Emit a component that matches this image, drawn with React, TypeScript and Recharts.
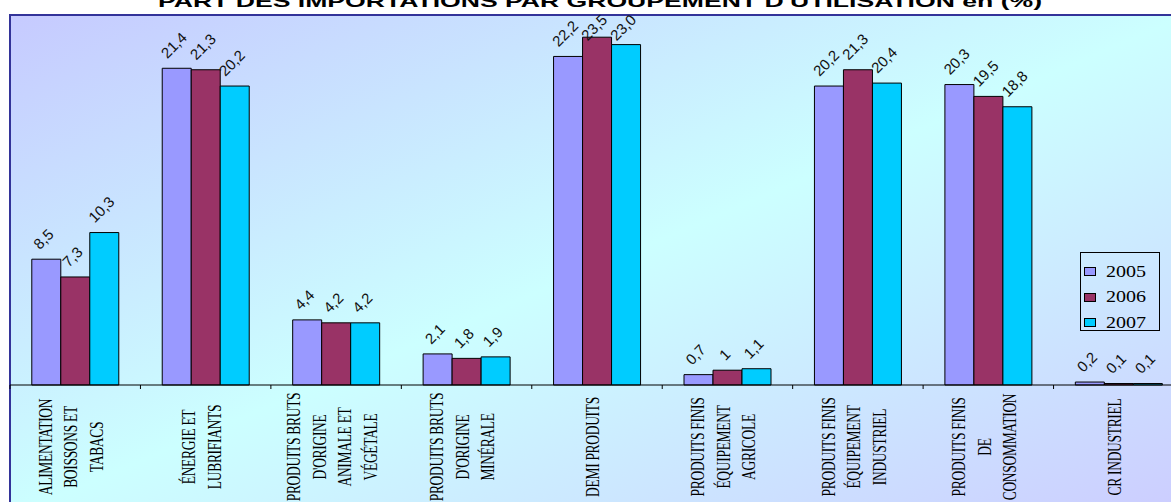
import React from 'react';
import { BarChart, Bar, XAxis, YAxis, LabelList } from 'recharts';

// Category labels, one entry per line of the rotated axis label
const categories: string[][] = [
  ['ALIMENTATION', 'BOISSONS ET', 'TABACS'],
  ['ÉNERGIE ET', 'LUBRIFIANTS'],
  ['PRODUITS BRUTS', "D'ORIGINE", 'ANIMALE ET', 'VÉGÉTALE'],
  ['PRODUITS BRUTS', "D'ORIGINE", 'MINÉRALE'],
  ['DEMI PRODUITS'],
  ['PRODUITS FINIS', 'ÉQUIPEMENT', 'AGRICOLE'],
  ['PRODUITS FINIS', 'ÉQUIPEMENT', 'INDUSTRIEL'],
  ['PRODUITS FINIS', 'DE', 'CONSOMMATION'],
  ['CR INDUSTRIEL'],
];

// values as printed on the chart (comma decimals)
const values2005 = ['8,5', '21,4', '4,4', '2,1', '22,2', '0,7', '20,2', '20,3', '0,2'];
const values2006 = ['7,3', '21,3', '4,2', '1,8', '23,5', '1', '21,3', '19,5', '0,1'];
const values2007 = ['10,3', '20,2', '4,2', '1,9', '23,0', '1,1', '20,4', '18,8', '0,1'];

const years = ['2005', '2006', '2007'];
const colors = ['#9999ff', '#993366', '#00ccff'];

const TITLE = "PART DES IMPORTATIONS PAR GROUPEMENT D'UTILISATION en (%)";

const CHART_W = 1185;
const CHART_H = 502;
const MARGIN = { top: 15, right: 1, left: 10, bottom: 0 };
const AXIS_H = 117;
const BAND = (CHART_W - MARGIN.left - MARGIN.right) / categories.length;
const LABEL_SIZE = 15;

const num = (s: string) => parseFloat(s.replace(',', '.'));

const data = categories.map((lines, i) => ({
  name: lines.join('\n'),
  v2005: num(values2005[i]),
  v2006: num(values2006[i]),
  v2007: num(values2007[i]),
  l2005: values2005[i],
  l2006: values2006[i],
  l2007: values2007[i],
}));

// rough Arial widths for label sizing
const textWidth = (s: string, size: number) =>
  s.split('').reduce((w, c) => w + (c === ',' ? 0.278 : 0.556), 0) * size;

const ValueLabel = (props: any) => {
  const { x, y, width, value } = props;
  const txt = String(value);
  const half = (textWidth(txt, LABEL_SIZE) + 11) * 0.354;
  let cy = y - 9 - half;
  cy = Math.max(cy, MARGIN.top + half - 2);
  const cx = x + width / 2 - 3;
  return (
    <text
      x={cx}
      y={cy}
      transform={`rotate(-45, ${cx}, ${cy})`}
      textAnchor="middle"
      dominantBaseline="central"
      fontFamily="'Liberation Sans', Arial, sans-serif"
      fontSize={LABEL_SIZE}
      fill="#111"
    >
      {txt}
    </text>
  );
};

const CategoryTick = (props: any) => {
  const { x, y, payload } = props;
  const lines: string[] = String(payload.value).split('\n');
  const left = x - BAND / 2;
  return (
    <g>
      <line x1={left} y1={y - 8} x2={left} y2={y - 4} stroke="#000" />
      {lines.map((line, i) => {
        const lx = x - 4 + (i - (lines.length - 1) / 2) * 25.5;
        return (
          <text
            key={i}
            transform={`translate(${lx}, 447) rotate(-90) scale(1, 1.35)`}
            textAnchor="middle"
            dominantBaseline="central"
            fontFamily="'Liberation Serif', 'Times New Roman', serif"
            fontSize={13.5}
            letterSpacing={-0.3}
            fill="#000"
          >
            {line}
          </text>
        );
      })}
    </g>
  );
};

export default function App() {
  return (
    <div
      style={{
        position: 'absolute',
        left: 0,
        top: 0,
        width: 1171,
        height: 502,
        overflow: 'hidden',
        background: '#fff',
      }}
    >
      {/* plot / chart area background */}
      <div
        style={{
          position: 'absolute',
          left: 9,
          top: 14,
          width: CHART_W - 10,
          height: 500,
          background: 'linear-gradient(to bottom right, #c6caff 0%, #ccffff 50%, #ccccff 100%)',
          borderTop: '2px solid #333399',
          borderLeft: '2px solid #333399',
        }}
      />
      <svg width={1171} height={15} style={{ position: 'absolute', left: 0, top: 0 }}>
        <text
          x={158}
          y={7}
          textLength={884}
          lengthAdjust="spacingAndGlyphs"
          fontFamily="'Liberation Sans', Arial, sans-serif"
          fontWeight="bold"
          fontSize={17}
          fill="#000"
        >
          {TITLE}
        </text>
      </svg>
      <div style={{ position: 'absolute', left: 0, top: 0 }}>
        <BarChart
          width={CHART_W}
          height={CHART_H}
          data={data}
          margin={MARGIN}
          barCategoryGap="16.7%"
          barGap={0}
        >
          <XAxis
            dataKey="name"
            height={AXIS_H}
            interval={0}
            tickLine={false}
            axisLine={{ stroke: '#000', strokeWidth: 1 }}
            tick={<CategoryTick />}
          />
          <YAxis hide domain={[0, 25]} />
          {years.map((yr, k) => (
            <Bar
              key={yr}
              dataKey={`v${yr}`}
              name={yr}
              fill={colors[k]}
              stroke="#000"
              strokeWidth={1}
              isAnimationActive={false}
            >
              <LabelList dataKey={`l${yr}`} content={<ValueLabel />} />
            </Bar>
          ))}
        </BarChart>
      </div>
      {/* legend */}
      <div
        style={{
          position: 'absolute',
          left: 1080,
          top: 252,
          width: 80,
          height: 79,
          border: '1px solid #000',
          boxSizing: 'border-box',
          paddingTop: 6,
        }}
      >
        {years.map((yr, k) => (
          <div key={yr} style={{ display: 'flex', alignItems: 'center', height: 25.5 }}>
            <span
              style={{
                display: 'inline-block',
                width: 10,
                height: 7,
                marginLeft: 3,
                marginRight: 10,
                background: colors[k],
                border: '1px solid #000',
              }}
            />
            <span
              style={{
                display: 'inline-block',
                fontFamily: "'Liberation Serif', 'Times New Roman', serif",
                fontSize: 16,
                transform: 'scale(1.25, 1)',
                transformOrigin: 'left center',
                color: '#000',
              }}
            >
              {yr}
            </span>
          </div>
        ))}
      </div>
    </div>
  );
}
